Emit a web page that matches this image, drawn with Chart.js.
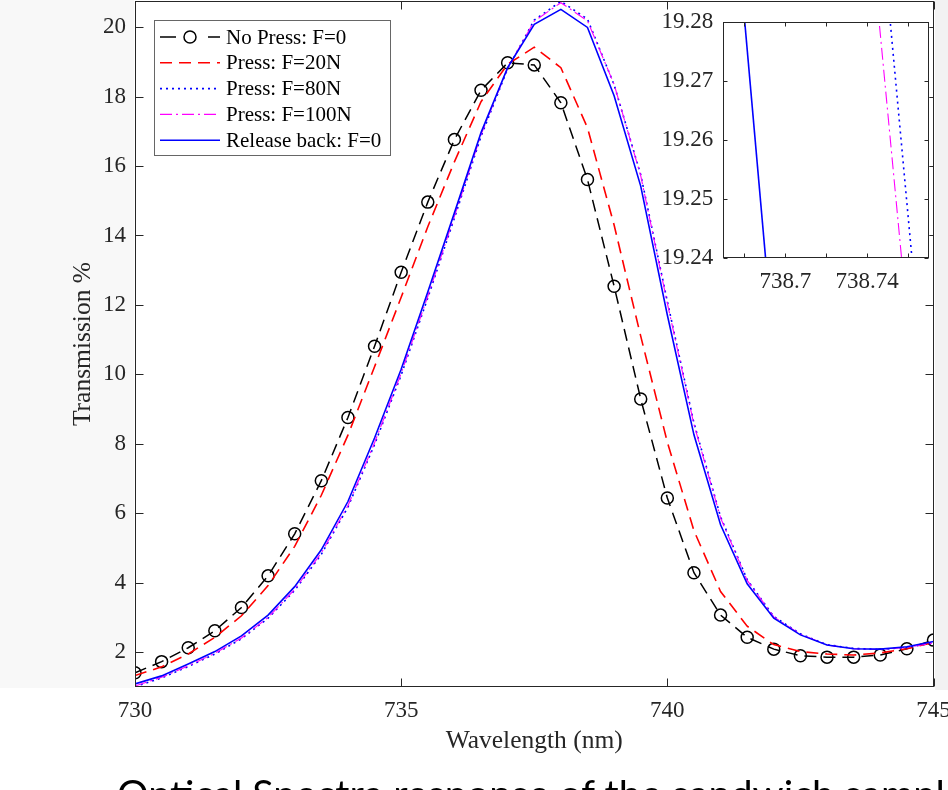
<!DOCTYPE html>
<html>
<head>
<meta charset="utf-8">
<script src="https://cdn.jsdelivr.net/npm/chart.js@4.4.0/dist/chart.umd.min.js"></script>
<style>
  html, body { margin: 0; padding: 0; background: #fff; }
  #stage { position: relative; width: 948px; height: 790px; overflow: hidden; background: #fff; }
  .strip { position: absolute; }
  #main { position: absolute; left: 0; top: 0; }
  #inset { position: absolute; left: 640px; top: 0; }
  #caption { position: absolute; left: 117px; top: 773px; font-family: Lato, 'Open Sans', sans-serif; font-size: 39.5px; line-height: 1; color: #000; white-space: nowrap; }
</style>
</head>
<body>
<div id="stage">
  <div class="strip" style="left:0;top:0;width:134px;height:688px;background:#f8f8f8"></div>
  <div class="strip" style="left:935px;top:0;width:13px;height:690px;background:#f2f2f2"></div>
  <canvas id="main" width="948" height="790"></canvas>
  <canvas id="inset" width="308" height="300"></canvas>
  <div id="caption">Optical Spectra response of the sandwich sample</div>
</div>
<script>
// wavelength samples (nm)
const wavelength = [730, 730.5, 731, 731.5, 732, 732.5, 733, 733.5, 734, 734.5, 735, 735.5, 736, 736.5, 737, 737.5,
  738, 738.5, 739, 739.5, 740, 740.5, 741, 741.5, 742, 742.5, 743, 743.5, 744, 744.5, 745];

// transmission % per series
const noPress = [1.41, 1.73, 2.13, 2.62, 3.29, 4.20, 5.41, 6.94, 8.76, 10.81, 12.94, 14.96, 16.76, 18.18, 18.97, 18.91,
  17.82, 15.61, 12.54, 9.29, 6.44, 4.29, 3.07, 2.43, 2.09, 1.90, 1.86, 1.86, 1.92, 2.10, 2.35];
const press20 = [1.33, 1.58, 1.95, 2.43, 3.05, 3.92, 5.05, 6.52, 8.25, 10.22, 12.22, 14.25, 16.12, 17.85, 18.93, 19.42,
  18.83, 17.10, 14.30, 11.10, 8.05, 5.50, 3.75, 2.75, 2.22, 2.02, 1.95, 1.92, 1.98, 2.10, 2.28];
const press80 = [1.01, 1.26, 1.59, 1.95, 2.39, 2.98, 3.78, 4.82, 6.18, 7.98, 9.98, 12.20, 14.50, 16.85, 18.80, 20.20,
  20.74, 20.23, 18.34, 15.75, 12.10, 8.60, 5.90, 4.09, 3.03, 2.53, 2.22, 2.11, 2.08, 2.14, 2.27];
const press100 = [1.03, 1.28, 1.61, 1.97, 2.41, 3.00, 3.81, 4.86, 6.22, 8.03, 10.03, 12.25, 14.55, 16.90, 18.82, 20.17,
  20.70, 20.18, 18.35, 15.72, 12.05, 8.56, 5.87, 4.07, 3.02, 2.52, 2.21, 2.10, 2.08, 2.14, 2.27];
const releaseBack = [1.09, 1.32, 1.66, 2.02, 2.47, 3.07, 3.89, 4.95, 6.34, 8.17, 10.15, 12.37, 14.65, 16.96, 18.83, 20.08,
  20.51, 19.99, 18.02, 15.42, 11.71, 8.26, 5.67, 3.97, 2.98, 2.50, 2.21, 2.10, 2.09, 2.16, 2.31];

const seriesNames = ['No Press: F=0', 'Press: F=20N', 'Press: F=80N', 'Press: F=100N', 'Release back: F=0'];
const insetXTickLabels = ['738.7', '738.74'];

const SERIF = "'Liberation Serif', 'Times New Roman', serif";
const AXIS = '#262626';

const pts = (ys) => wavelength.map((w, i) => ({ x: w, y: ys[i] }));

function makeDatasets(markerR) {
  return [
    { label: seriesNames[0], data: pts(noPress), borderColor: '#000', borderWidth: 1.5, borderDash: [12, 7],
      pointRadius: markerR, pointBorderWidth: 1.5, pointBorderColor: '#000', pointBackgroundColor: 'rgba(0,0,0,0)', order: 5 },
    { label: seriesNames[1], data: pts(press20), borderColor: '#ff0000', borderWidth: 1.6, borderDash: [12, 7], pointRadius: 0, order: 4 },
    { label: seriesNames[2], data: pts(press80), borderColor: '#0000ff', borderWidth: 1.6, borderDash: [2, 4], pointRadius: 0, order: 3 },
    { label: seriesNames[3], data: pts(press100), borderColor: '#ff00ff', borderWidth: 1.1, borderDash: [12, 4, 2, 4], pointRadius: 0, order: 2 },
    { label: seriesNames[4], data: pts(releaseBack), borderColor: '#0000ff', borderWidth: 1.6, pointRadius: 0, order: 1 },
  ];
}

// fixed axis box sizes, no extra room for overhanging labels
const fixX = (h) => (s) => { s.height = h; s.paddingLeft = 0; s.paddingRight = 0; };
const fixY = (w) => (s) => { s.width = w; s.paddingTop = 0; s.paddingBottom = 0; };

// white plot box + inward ticks on all four sides
const frameTicks = {
  id: 'frameTicks',
  beforeDraw(chart) {
    const { ctx, chartArea: a } = chart;
    ctx.save();
    ctx.fillStyle = '#fff';
    ctx.fillRect(a.left, a.top, a.right - a.left, a.bottom - a.top);
    ctx.restore();
  },
  afterDatasetsDraw(chart, args, opts) {
    const { ctx, chartArea: a, scales: { x, y } } = chart;
    const len = opts.len;
    const L = Math.round(a.left) + 0.5, R = Math.round(a.right) - 0.5;
    const T = Math.round(a.top) + 0.5, B = Math.round(a.bottom) - 0.5;
    ctx.save();
    ctx.strokeStyle = AXIS;
    ctx.lineWidth = 1;
    ctx.beginPath();
    x.ticks.forEach((t) => {
      const px = Math.round(x.getPixelForValue(t.value)) + 0.5;
      ctx.moveTo(px, B); ctx.lineTo(px, B - len);
      ctx.moveTo(px, T); ctx.lineTo(px, T + len);
    });
    y.ticks.forEach((t) => {
      const py = Math.round(y.getPixelForValue(t.value)) + 0.5;
      ctx.moveTo(L, py); ctx.lineTo(L + len, py);
      ctx.moveTo(R, py); ctx.lineTo(R - len, py);
    });
    ctx.stroke();
    ctx.strokeRect(L, T, R - L, B - T);
    ctx.restore();
  },
};

// matlab-style legend box in the upper left corner
const boxLegend = {
  id: 'boxLegend',
  afterDraw(chart, args, o) {
    const { ctx } = chart;
    ctx.save();
    ctx.fillStyle = '#fff';
    ctx.fillRect(o.x, o.y, o.w, o.h);
    ctx.strokeStyle = '#666';
    ctx.lineWidth = 1;
    ctx.strokeRect(o.x + 0.5, o.y + 0.5, o.w, o.h);
    ctx.font = `${o.fontSize}px ${SERIF}`;
    ctx.textBaseline = 'middle';
    chart.data.datasets.forEach((ds, i) => {
      const ry = o.y + o.first + i * o.step;
      ctx.strokeStyle = ds.borderColor;
      ctx.lineWidth = ds.borderWidth;
      ctx.setLineDash(ds.pointRadius ? [16, 32] : (ds.borderDash || []));
      ctx.beginPath();
      ctx.moveTo(o.x + o.lineFrom, ry);
      ctx.lineTo(o.x + o.lineTo, ry);
      ctx.stroke();
      ctx.setLineDash([]);
      if (ds.pointRadius) {
        ctx.lineWidth = ds.pointBorderWidth;
        ctx.beginPath();
        ctx.arc(o.x + (o.lineFrom + o.lineTo) / 2, ry, ds.pointRadius, 0, Math.PI * 2);
        ctx.stroke();
      }
      ctx.fillStyle = '#000';
      ctx.fillText(ds.label, o.x + o.textX, ry + 1);
    });
    ctx.restore();
  },
};

new Chart(document.getElementById('main'), {
  type: 'line',
  data: { datasets: makeDatasets(6) },
  plugins: [frameTicks, boxLegend],
  options: {
    responsive: false,
    animation: false,
    devicePixelRatio: 1,
    layout: { autoPadding: false, padding: { left: 0, right: 14.5, top: 1, bottom: 0 } },
    elements: { line: { tension: 0 } },
    plugins: {
      legend: { display: false },
      tooltip: { enabled: false },
      frameTicks: { len: 8 },
      boxLegend: { x: 154, y: 20, w: 236, h: 135, first: 17, step: 25.8, lineFrom: 6, lineTo: 66, textX: 72, fontSize: 21 },
    },
    scales: {
      x: {
        type: 'linear', min: 730, max: 745,
        grid: { display: false, drawTicks: false },
        border: { display: false },
        ticks: { stepSize: 5, autoSkip: false, maxRotation: 0, padding: 10, color: AXIS, font: { family: SERIF, size: 23 } },
        title: { display: true, text: 'Wavelength (nm)', color: AXIS, font: { family: SERIF, size: 25.5 }, padding: { top: 0, bottom: 33 } },
        afterFit: fixX(103),
      },
      y: {
        min: 1, max: 20.75,
        grid: { display: false, drawTicks: false },
        border: { display: false },
        ticks: { stepSize: 2, includeBounds: false, autoSkip: false, padding: 9, color: AXIS, font: { family: SERIF, size: 23 } },
        title: { display: true, text: 'Transmission %', color: AXIS, font: { family: SERIF, size: 25.5 }, padding: { top: 68, bottom: 0 } },
        afterFit: fixY(135),
      },
    },
  },
});

new Chart(document.getElementById('inset'), {
  type: 'line',
  data: { datasets: makeDatasets(0) },
  plugins: [frameTicks],
  options: {
    responsive: false,
    animation: false,
    devicePixelRatio: 1,
    layout: { autoPadding: false, padding: { left: 0, right: 18.7, top: 22.3, bottom: 0 } },
    elements: { line: { tension: 0 } },
    plugins: { legend: { display: false }, tooltip: { enabled: false }, frameTicks: { len: 4 } },
    scales: {
      x: {
        type: 'linear', min: 738.6697, max: 738.7704,
        grid: { display: false, drawTicks: false },
        border: { display: false },
        ticks: {
          stepSize: 0.02, includeBounds: false, autoSkip: false, maxRotation: 0, padding: 10, color: AXIS,
          font: { family: SERIF, size: 23 },
          callback: (v) => insetXTickLabels.find((l) => Math.abs(parseFloat(l) - v) < 1e-6) || '',
        },
        afterFit: fixX(42.3),
      },
      y: {
        min: 19.24, max: 19.28,
        grid: { display: false, drawTicks: false },
        border: { display: false },
        ticks: { stepSize: 0.01, autoSkip: false, padding: 10, color: AXIS, font: { family: SERIF, size: 23 },
          callback: (v) => v.toFixed(2) },
        afterFit: fixY(83.3),
      },
    },
  },
});
</script>
</body>
</html>
